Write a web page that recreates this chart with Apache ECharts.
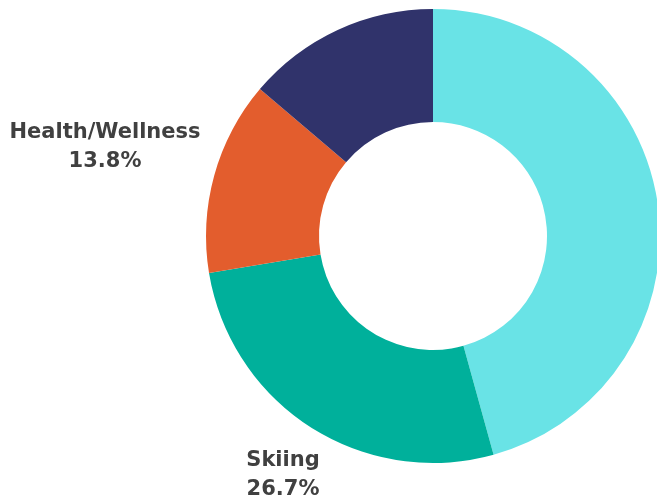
<!DOCTYPE html>
<html>
<head>
    <meta charset="UTF-8">
    <title>Donut</title>
    <script src="https://cdn.jsdelivr.net/npm/echarts@6/dist/echarts.min.js"></script>
    <style>
        html, body { margin: 0; padding: 0; background: #fff; }
        #chart { width: 657px; height: 502px; }
    </style>
</head>
<body>
<div id="chart"></div>
<script>
    // slices, clockwise from 12 o'clock
    var names = ["Other A", "Skiing", "Health/Wellness", "Other B"];
    var values = [45.7, 26.7, 13.8, 13.8];
    var colors = ["#69E3E6", "#00B09B", "#E35D2D", "#30336B"];
    var showLabel = [false, true, true, false];

    // where the two visible labels sit
    var labelPos = {1: [283, 475], 2: [105, 147]};

    var data = names.map(function (n, i) {
        return {
            name: n,
            value: values[i],
            itemStyle: {color: colors[i]},
            label: {show: showLabel[i]}
        };
    });

    var chart = echarts.init(document.getElementById('chart'), null, {renderer: 'canvas'});
    chart.setOption({
        animation: false,
        series: [{
            type: 'pie',
            center: [433, 236],
            radius: [114, 227],
            startAngle: 90,
            clockwise: true,
            data: data,
            itemStyle: {borderWidth: 0},
            label: {
                position: 'outside',
                formatter: function (p) { return p.name + '\n' + p.value.toFixed(1) + '%'; },
                fontFamily: 'DejaVu Sans',
                fontWeight: 'bold',
                fontSize: 21,
                lineHeight: 29,
                color: '#404040',
                align: 'center',
                overflow: 'none',
                width: 260
            },
            labelLine: {show: false},
            labelLayout: function (params) {
                var p = labelPos[params.dataIndex];
                if (!p) return {};
                return {x: p[0], y: p[1], align: 'center', verticalAlign: 'middle'};
            }
        }]
    });
</script>
</body>
</html>
